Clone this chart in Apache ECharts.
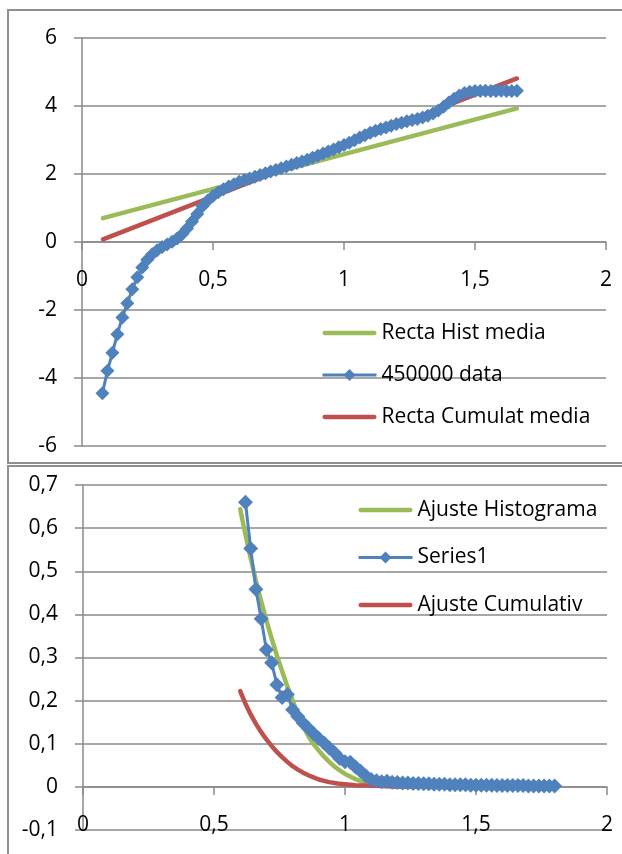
<!DOCTYPE html>
<html><head><meta charset="utf-8">
<script src="https://cdn.jsdelivr.net/npm/echarts@6/dist/echarts.min.js"></script>
<style>html,body{margin:0;padding:0;background:#fff}#c{width:622px;height:854px}</style>
</head><body><div id="c"></div>
<script>
// ---------- Top chart data ----------
const topXTicks = ['0', '0,5', '1', '1,5', '2'];
const topYTicks = ['-6', '-4', '-2', '0', '2', '4', '6'];

const histLineX = [0.08, 1.66];
const histLineY = [0.70, 3.93];

const cumLineX = [0.08, 1.66];
const cumLineY = [0.08, 4.81];

const dataX = [0.078, 0.097, 0.116, 0.135, 0.154, 0.173, 0.192, 0.211, 0.230, 0.249,
  0.268, 0.287, 0.306, 0.325, 0.344, 0.363, 0.382, 0.401, 0.420, 0.440,
  0.460, 0.480, 0.500, 0.520, 0.540, 0.560, 0.580, 0.600, 0.620, 0.640,
  0.660, 0.680, 0.700, 0.720, 0.740, 0.760, 0.780, 0.800, 0.820, 0.840,
  0.860, 0.880, 0.900, 0.920, 0.940, 0.960, 0.980, 1.000, 1.020, 1.040,
  1.060, 1.080, 1.100, 1.120, 1.140, 1.160, 1.180, 1.200, 1.220, 1.240,
  1.260, 1.280, 1.300, 1.320, 1.340, 1.360, 1.380, 1.400, 1.420, 1.440,
  1.460, 1.480, 1.500, 1.520, 1.540, 1.560, 1.580, 1.600, 1.620, 1.640, 1.660];
const dataY = [-4.45, -3.79, -3.26, -2.71, -2.22, -1.80, -1.39, -1.04, -0.75, -0.52,
  -0.36, -0.24, -0.15, -0.07, 0.01, 0.10, 0.23, 0.40, 0.60, 0.82,
  1.05, 1.22, 1.35, 1.46, 1.55, 1.63, 1.70, 1.77, 1.82, 1.87,
  1.92, 1.97, 2.02, 2.07, 2.12, 2.17, 2.22, 2.27, 2.32, 2.37,
  2.42, 2.48, 2.54, 2.60, 2.66, 2.72, 2.79, 2.85, 2.92, 2.99,
  3.07, 3.14, 3.21, 3.27, 3.32, 3.37, 3.42, 3.47, 3.51, 3.55,
  3.59, 3.62, 3.66, 3.71, 3.78, 3.87, 3.98, 4.10, 4.21, 4.31,
  4.38, 4.42, 4.44, 4.44, 4.45, 4.44, 4.44, 4.45, 4.44, 4.44, 4.45];

// ---------- Bottom chart data ----------
const botXTicks = ['0', '0,5', '1', '1,5', '2'];
const botYTicks = ['-0,1', '0', '0,1', '0,2', '0,3', '0,4', '0,5', '0,6', '0,7'];

const fitHistX = [0.60, 0.62, 0.64, 0.66, 0.68, 0.70, 0.72, 0.74, 0.76, 0.78,
  0.80, 0.82, 0.84, 0.86, 0.88, 0.90, 0.92, 0.94, 0.96, 0.98,
  1.00, 1.02, 1.04, 1.06, 1.08, 1.10, 1.12, 1.14, 1.16, 1.18,
  1.20, 1.30, 1.40, 1.50, 1.60, 1.70, 1.80];
const fitHistY = [0.644, 0.585, 0.530, 0.478, 0.430, 0.386, 0.344, 0.305, 0.268, 0.233,
  0.200, 0.169, 0.141, 0.118, 0.099, 0.084, 0.070, 0.058, 0.047, 0.038,
  0.030, 0.024, 0.018, 0.013, 0.009, 0.006, 0.004, 0.003, 0.002, 0.001,
  0.001, 0.000, 0.000, 0.000, 0.000, 0.000, 0.000];

const series1X = [0.62, 0.64, 0.66, 0.68, 0.70, 0.72, 0.74, 0.76, 0.78, 0.80,
  0.82, 0.84, 0.86, 0.88, 0.90, 0.92, 0.94, 0.96, 0.98, 1.00,
  1.02, 1.04, 1.06, 1.08, 1.10, 1.12, 1.14, 1.16, 1.18, 1.20,
  1.22, 1.24, 1.26, 1.28, 1.30, 1.32, 1.34, 1.36, 1.38, 1.40,
  1.42, 1.44, 1.46, 1.48, 1.50, 1.52, 1.54, 1.56, 1.58, 1.60,
  1.62, 1.64, 1.66, 1.68, 1.70, 1.72, 1.74, 1.76, 1.78, 1.80];
const series1Y = [0.660, 0.553, 0.458, 0.390, 0.318, 0.288, 0.237, 0.207, 0.214, 0.179,
  0.163, 0.148, 0.136, 0.124, 0.112, 0.102, 0.090, 0.079, 0.066, 0.058,
  0.057, 0.046, 0.036, 0.025, 0.017, 0.014, 0.012, 0.013, 0.011, 0.010,
  0.009, 0.009, 0.008, 0.008, 0.007, 0.007, 0.006, 0.006, 0.006, 0.005,
  0.005, 0.005, 0.005, 0.004, 0.004, 0.004, 0.004, 0.004, 0.003, 0.003,
  0.003, 0.003, 0.003, 0.003, 0.002, 0.002, 0.002, 0.002, 0.002, 0.002];

const fitCumX = [0.60, 0.62, 0.64, 0.66, 0.68, 0.70, 0.72, 0.74, 0.76, 0.78,
  0.80, 0.82, 0.84, 0.86, 0.88, 0.90, 0.92, 0.94, 0.96, 0.98,
  1.00, 1.04, 1.08, 1.14, 1.20, 1.30, 1.40, 1.50, 1.60, 1.70, 1.80];
const fitCumY = [0.222, 0.193, 0.168, 0.146, 0.127, 0.110, 0.095, 0.081, 0.069, 0.058,
  0.048, 0.040, 0.033, 0.027, 0.022, 0.017, 0.014, 0.011, 0.009, 0.007,
  0.006, 0.004, 0.003, 0.002, 0.001, 0.0005, 0.0002, 0.0, 0.0, 0.0, 0.0];

// ---------- Styling ----------
const GREEN = '#9BBB59', BLUE = '#4F81BD', RED = '#C0504D';
const GRID = '#8a8a8a', BORDER = '#8f8f8f';
const FONT = 'Open Sans';
const FS = 21;

const pairs = (xs, ys) => xs.map((x, i) => [x, ys[i]]);
const lineIcon = 'path://M2.25,0H51.75A2.25,2.25,0,0,1,51.75,4.5H2.25A2.25,2.25,0,0,1,2.25,0Z';

// x axis sits on y = 0 of its grid: offset moves it up from the grid bottom
function xAxisCfg(gridIndex, ticks, offset) {
  return {
    type: 'value', gridIndex, min: 0, max: 2, interval: 0.5, position: 'bottom', offset,
    axisLine: { show: true, onZero: false, lineStyle: { color: GRID, width: 1.5 } },
    axisTick: { show: true, length: 8, lineStyle: { color: GRID, width: 1.5 } },
    splitLine: { show: false },
    axisLabel: {
      margin: 28, color: '#000', fontFamily: FONT, fontSize: FS,
      formatter: v => ticks[Math.round(v / 0.5)]
    }
  };
}
function yAxisCfg(gridIndex, min, max, interval, ticks) {
  return {
    type: 'value', gridIndex, min, max, interval,
    axisLine: { show: true, onZero: false, lineStyle: { color: GRID, width: 1.5 } },
    axisTick: { show: true, length: 8, lineStyle: { color: GRID, width: 1.5 } },
    splitLine: { show: true, lineStyle: { color: GRID, width: 1.5 } },
    axisLabel: {
      margin: 25, color: '#000', fontFamily: FONT, fontSize: FS,
      formatter: v => ticks[Math.round((v - min) / interval)]
    }
  };
}

const chart = echarts.init(document.getElementById('c'), null, { renderer: 'canvas' });
chart.setOption({
  animation: false,
  backgroundColor: '#fff',
  textStyle: { fontFamily: FONT },
  graphic: [
    { type: 'rect', shape: { x: 8, y: 10, width: 700, height: 453 }, style: { fill: 'none', stroke: BORDER, lineWidth: 2 }, silent: true },
    { type: 'rect', shape: { x: 8, y: 466, width: 700, height: 500 }, style: { fill: 'none', stroke: BORDER, lineWidth: 2 }, silent: true }
  ],
  grid: [
    { left: 82, right: 16, top: 38, height: 408, containLabel: false },
    { left: 83, right: 15, top: 485, height: 345, containLabel: false }
  ],
  xAxis: [xAxisCfg(0, topXTicks, -204), xAxisCfg(1, botXTicks, -43)],
  yAxis: [yAxisCfg(0, -6, 6, 2, topYTicks), yAxisCfg(1, -0.1, 0.7, 0.1, botYTicks)],
  legend: [
    {
      orient: 'vertical', left: 321, top: 321, padding: 0, itemWidth: 54, itemHeight: 15, itemGap: 18,
      selectedMode: false,
      textStyle: { fontFamily: FONT, fontSize: FS, color: '#000', lineHeight: 24 },
      data: [
        { name: 'Recta Hist media', icon: lineIcon },
        { name: '450000 data', lineStyle: { width: 3 } },
        { name: 'Recta Cumulat media', icon: lineIcon }
      ]
    },
    {
      orient: 'vertical', left: 357, top: 498, padding: 0, itemWidth: 54, itemHeight: 15, itemGap: 23.5,
      selectedMode: false,
      textStyle: { fontFamily: FONT, fontSize: FS, color: '#000', lineHeight: 24 },
      data: [
        { name: 'Ajuste Histograma', icon: lineIcon },
        { name: 'Series1', lineStyle: { width: 3 } },
        { name: 'Ajuste Cumulativ', icon: lineIcon }
      ]
    }
  ],
  series: [
    { name: 'Recta Hist media', type: 'line', xAxisIndex: 0, yAxisIndex: 0, data: pairs(histLineX, histLineY),
      symbol: 'none', color: GREEN, lineStyle: { color: GREEN, width: 4.5, cap: 'round' } },
    { name: '450000 data', type: 'line', xAxisIndex: 0, yAxisIndex: 0, data: pairs(dataX, dataY),
      symbol: 'diamond', symbolSize: 14, showSymbol: true, showAllSymbol: true, color: BLUE,
      itemStyle: { color: BLUE }, lineStyle: { color: BLUE, width: 3 } },
    { name: 'Recta Cumulat media', type: 'line', xAxisIndex: 0, yAxisIndex: 0, data: pairs(cumLineX, cumLineY),
      symbol: 'none', color: RED, lineStyle: { color: RED, width: 4.5, cap: 'round' } },

    { name: 'Ajuste Histograma', type: 'line', xAxisIndex: 1, yAxisIndex: 1, data: pairs(fitHistX, fitHistY),
      symbol: 'none', color: GREEN, lineStyle: { color: GREEN, width: 4.5, cap: 'round' } },
    { name: 'Series1', type: 'line', xAxisIndex: 1, yAxisIndex: 1, data: pairs(series1X, series1Y),
      symbol: 'diamond', symbolSize: 15, showSymbol: true, showAllSymbol: true, color: BLUE,
      itemStyle: { color: BLUE }, lineStyle: { color: BLUE, width: 3 } },
    { name: 'Ajuste Cumulativ', type: 'line', xAxisIndex: 1, yAxisIndex: 1, data: pairs(fitCumX, fitCumY),
      symbol: 'none', color: RED, lineStyle: { color: RED, width: 4.5, cap: 'round' } }
  ]
});
</script>
</body></html>
